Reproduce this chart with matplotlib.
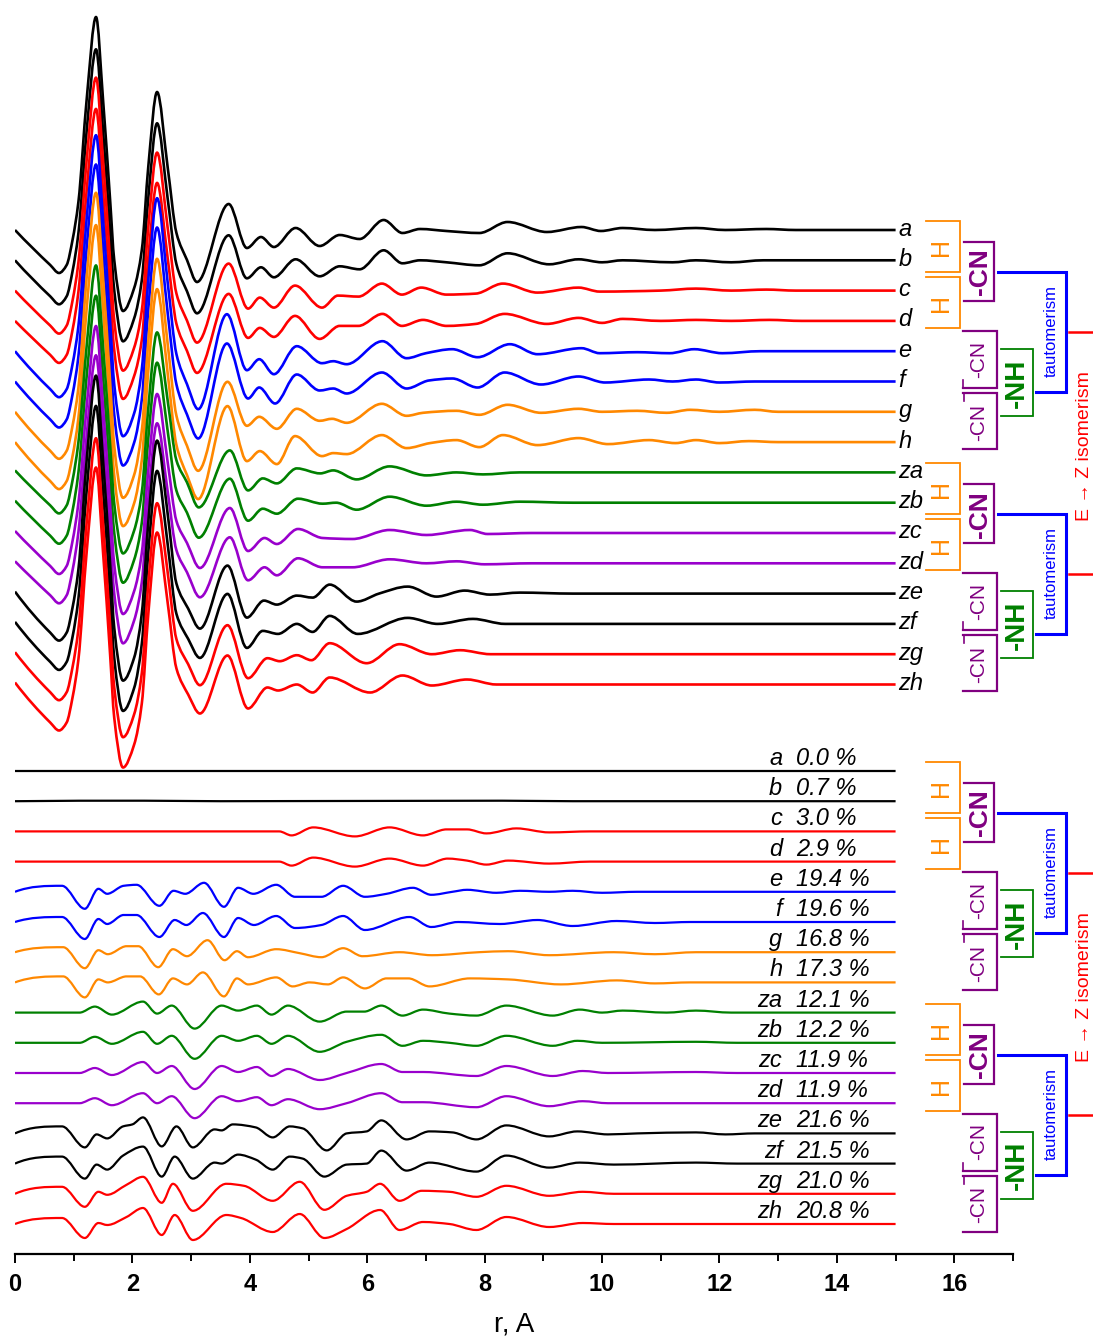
import numpy as np
import matplotlib.pyplot as plt
from matplotlib.path import Path
from matplotlib.patches import PathPatch

plt.rcParams['font.family'] = ['Liberation Sans', 'DejaVu Sans']

names = ["a", "b", "c", "d", "e", "f", "g", "h",
         "za", "zb", "zc", "zd", "ze", "zf", "zg", "zh"]
percent = ["0.0", "0.7", "3.0", "2.9", "19.4", "19.6", "16.8", "17.3",
           "12.1", "12.2", "11.9", "11.9", "21.6", "21.5", "21.0", "20.8"]

# G(r) for each structure: (r, value) at the extrema and flank points
up_a = [(0.0, 0.0), (0.60, -3.5), (0.75, -4.3), (0.88, -3.5), (0.98, -1.0), (1.08, 2.8), (1.22, 13.0),
        (1.38, 21.3), (1.50, 13.0), (1.62, 3.0), (1.69, -3.0), (1.84, -8.1), (2.03, -5.8), (2.16, -2.0),
        (2.27, 6.3), (2.42, 13.8), (2.60, 6.3), (2.75, -0.3), (2.93, -3.0), (3.10, -5.2), (3.64, 2.6),
        (3.95, -1.8), (4.19, -0.7), (4.41, -1.7), (4.78, 0.2), (5.19, -1.6), (5.53, -0.5), (5.87, -0.9),
        (6.28, 1.0), (6.60, -0.3), (6.90, 0.1), (7.35, -0.1), (7.91, -0.3), (8.39, 0.8), (9.06, -0.2),
        (9.65, 0.3), (9.98, -0.1), (10.35, 0.2), (10.90, 0.0), (11.60, 0.2), (12.10, 0.0), (12.80, 0.1),
        (13.30, 0.0), (15.0, 0.0)]
up_b = [(0.0, 0.0), (0.60, -3.6), (0.75, -4.4), (0.88, -3.6), (0.98, -1.1), (1.08, 2.7), (1.22, 12.9),
        (1.38, 21.1), (1.50, 12.9), (1.62, 2.9), (1.69, -3.0), (1.84, -8.1), (2.03, -5.8), (2.16, -2.0),
        (2.27, 6.2), (2.42, 13.7), (2.60, 6.2), (2.75, -0.4), (2.93, -3.1), (3.10, -5.3), (3.64, 2.5),
        (3.95, -1.8), (4.19, -0.7), (4.41, -1.7), (4.78, 0.1), (5.19, -1.6), (5.53, -0.6), (5.87, -0.9),
        (6.28, 1.0), (6.60, -0.3), (6.90, 0.0), (7.35, -0.2), (7.91, -0.5), (8.39, 0.7), (9.10, -0.4),
        (9.60, 0.1), (10.00, -0.2), (10.35, 0.0), (11.20, -0.2), (11.60, 0.0), (12.20, -0.2), (12.75, 0.0),
        (15.0, 0.0)]
up_c = [(0.0, 0.0), (0.60, -3.5), (0.75, -4.3), (0.88, -3.5), (0.98, -1.0), (1.08, 2.8), (1.22, 13.0),
        (1.38, 21.3), (1.50, 13.0), (1.62, 3.0), (1.69, -3.0), (1.84, -8.0), (2.03, -5.7), (2.16, -2.0),
        (2.27, 6.3), (2.42, 13.8), (2.60, 6.3), (2.75, -0.3), (2.93, -3.0), (3.10, -5.2), (3.64, 2.7),
        (3.97, -1.8), (4.17, -0.7), (4.41, -1.7), (4.77, 0.5), (5.23, -1.7), (5.50, -0.5), (5.85, -0.6),
        (6.25, 0.7), (6.59, -0.4), (6.92, 0.3), (7.35, -0.4), (7.85, -0.3), (8.31, 0.7), (8.90, -0.2),
        (9.60, 0.3), (9.96, -0.1), (11.00, 0.0), (11.60, 0.2), (12.20, 0.0), (12.80, 0.1), (13.30, 0.0),
        (15.0, 0.0)]
up_d = [(0.0, 0.0), (0.60, -3.4), (0.75, -4.2), (0.88, -3.4), (0.98, -0.9), (1.08, 2.9), (1.22, 13.0),
        (1.38, 21.2), (1.50, 13.0), (1.62, 3.0), (1.69, -2.9), (1.84, -7.8), (2.03, -5.5), (2.16, -1.9),
        (2.27, 6.3), (2.42, 13.8), (2.60, 6.3), (2.75, -0.3), (2.93, -3.0), (3.10, -5.2), (3.64, 2.7),
        (3.97, -1.7), (4.17, -0.7), (4.41, -1.6), (4.77, 0.5), (5.19, -1.8), (5.53, -0.5), (5.85, -0.5),
        (6.26, 0.7), (6.59, -0.5), (6.95, 0.1), (7.35, -0.5), (7.85, -0.3), (8.34, 0.7), (9.06, -0.3),
        (9.60, 0.3), (10.00, -0.2), (10.35, 0.2), (11.00, 0.0), (11.60, 0.1), (12.20, 0.0), (12.85, 0.1),
        (13.40, 0.0), (15.0, 0.0)]
up_e = [(0.0, 0.0), (0.60, -3.8), (0.75, -4.6), (0.88, -3.8), (0.98, -1.3), (1.08, 2.5), (1.22, 13.2),
        (1.38, 21.6), (1.50, 13.2), (1.62, 3.0), (1.69, -3.3), (1.84, -8.5), (2.03, -6.2), (2.16, -1.8),
        (2.27, 7.1), (2.42, 15.3), (2.60, 6.9), (2.75, -0.3), (2.93, -3.3), (3.12, -5.8), (3.61, 3.7),
        (3.95, -1.9), (4.16, -0.8), (4.41, -2.3), (4.80, 0.5), (5.23, -1.2), (5.42, -1.0), (5.65, -1.3),
        (6.26, 1.0), (6.67, -0.7), (7.00, -0.2), (7.45, 0.2), (7.88, -0.6), (8.43, 0.7), (8.90, -0.3),
        (9.65, 0.3), (9.96, -0.2), (10.60, -0.1), (11.15, -0.2), (11.57, 0.2), (12.05, -0.2), (12.70, 0.0),
        (15.0, 0.0)]
up_f = [(0.0, 0.0), (0.60, -3.8), (0.75, -4.6), (0.88, -3.8), (0.98, -1.3), (1.08, 2.5), (1.22, 13.3),
        (1.38, 21.7), (1.50, 13.3), (1.62, 3.0), (1.69, -3.3), (1.84, -8.4), (2.03, -6.1), (2.16, -1.8),
        (2.27, 7.2), (2.42, 15.4), (2.60, 6.9), (2.75, -0.3), (2.93, -3.3), (3.12, -5.7), (3.61, 3.8),
        (3.97, -1.7), (4.16, -0.6), (4.43, -2.2), (4.80, 0.7), (5.19, -0.9), (5.42, -0.7), (5.65, -1.2),
        (6.25, 0.9), (6.67, -0.7), (7.05, 0.1), (7.45, 0.3), (7.88, -0.6), (8.34, 0.9), (8.96, -0.3),
        (9.60, 0.5), (10.05, -0.1), (10.80, 0.2), (11.20, 0.0), (11.60, 0.2), (12.00, -0.1), (12.60, 0.0),
        (15.0, 0.0)]
up_g = [(0.0, 0.0), (0.60, -3.9), (0.75, -4.7), (0.88, -3.9), (0.98, -1.4), (1.08, 2.4), (1.22, 13.4),
        (1.38, 21.9), (1.50, 13.4), (1.62, 3.0), (1.69, -3.4), (1.84, -8.6), (2.03, -6.3), (2.16, -1.9),
        (2.27, 7.0), (2.42, 15.3), (2.60, 6.8), (2.75, -0.4), (2.93, -3.4), (3.12, -5.9), (3.62, 3.0),
        (3.95, -1.4), (4.16, -0.5), (4.46, -1.7), (4.80, 0.3), (5.19, -0.9), (5.40, -0.7), (5.65, -1.1),
        (6.25, 0.8), (6.67, -0.4), (6.95, -0.1), (7.52, 0.1), (7.91, -0.3), (8.39, 0.7), (8.96, -0.1),
        (9.60, 0.3), (10.00, 0.0), (10.60, 0.1), (11.10, -0.1), (11.50, 0.2), (12.00, 0.0), (12.60, 0.2),
        (13.00, 0.0), (15.0, 0.0)]
up_h = [(0.0, 0.0), (0.60, -3.9), (0.75, -4.7), (0.88, -3.9), (0.98, -1.4), (1.08, 2.4), (1.22, 13.3),
        (1.38, 21.7), (1.50, 13.3), (1.62, 3.0), (1.69, -3.3), (1.84, -8.4), (2.03, -6.1), (2.16, -1.8),
        (2.27, 7.1), (2.42, 15.3), (2.60, 6.9), (2.75, -0.3), (2.93, -3.3), (3.12, -5.7), (3.62, 3.6),
        (3.95, -1.9), (4.17, -0.9), (4.46, -2.2), (4.77, 0.6), (5.23, -1.4), (5.42, -1.1), (5.65, -1.2),
        (6.25, 0.7), (6.67, -0.6), (7.07, -0.1), (7.52, 0.2), (7.91, -0.5), (8.31, 0.7), (8.90, -0.3),
        (9.60, 0.4), (10.10, -0.2), (10.80, 0.2), (11.25, -0.1), (11.60, 0.2), (12.00, -0.1), (12.50, 0.1),
        (13.00, 0.0), (15.0, 0.0)]
up_za = [(0.0, 0.2), (0.60, -3.3), (0.75, -4.1), (0.88, -3.3), (0.98, -0.8), (1.08, 3.0), (1.22, 12.6),
         (1.38, 20.7), (1.50, 12.6), (1.62, 2.8), (1.69, -3.1), (1.84, -8.1), (2.03, -5.8), (2.16, -2.0),
         (2.27, 6.4), (2.42, 14.0), (2.60, 7.2), (2.75, 1.2), (2.93, -1.0), (3.13, -3.5), (3.66, 2.2),
         (3.97, -1.8), (4.22, -0.6), (4.46, -1.1), (4.80, 0.4), (5.20, -0.1), (5.42, 0.2), (5.82, -0.7),
         (6.38, 0.6), (7.01, -0.3), (7.52, 0.0), (7.97, -0.2), (8.60, 0.0), (15.0, 0.0)]
up_zb = [(0.0, 0.2), (0.60, -3.3), (0.75, -4.1), (0.88, -3.3), (0.98, -0.8), (1.08, 3.0), (1.22, 12.6),
         (1.38, 20.7), (1.50, 12.6), (1.62, 2.8), (1.69, -3.0), (1.84, -8.0), (2.03, -5.7), (2.16, -2.0),
         (2.27, 6.4), (2.42, 14.0), (2.60, 7.2), (2.75, 1.2), (2.93, -1.0), (3.13, -3.5), (3.66, 2.4),
         (3.97, -1.8), (4.22, -0.6), (4.46, -1.1), (4.82, 0.4), (5.24, -0.1), (5.47, 0.0), (5.82, -0.7),
         (6.38, 0.6), (7.01, -0.3), (7.52, 0.1), (7.97, -0.2), (8.60, 0.1), (9.50, 0.0), (15.0, 0.0)]
up_zc = [(0.0, 0.2), (0.60, -3.3), (0.75, -4.1), (0.88, -3.3), (0.98, -0.8), (1.08, 3.0), (1.22, 12.6),
         (1.38, 20.7), (1.50, 12.6), (1.62, 2.8), (1.69, -3.1), (1.84, -8.1), (2.03, -5.8), (2.16, -2.0),
         (2.27, 6.3), (2.42, 13.9), (2.60, 7.1), (2.75, 1.2), (2.93, -1.0), (3.15, -3.5), (3.66, 2.5),
         (3.97, -1.8), (4.25, -0.5), (4.46, -1.1), (4.82, 0.4), (5.24, -0.5), (5.75, -0.6), (6.38, 0.3),
         (7.01, -0.2), (7.75, 0.3), (8.05, -0.1), (8.80, 0.0), (15.0, 0.0)]
up_zd = [(0.0, 0.2), (0.60, -3.2), (0.75, -4.0), (0.88, -3.2), (0.98, -0.7), (1.08, 3.1), (1.22, 12.7),
         (1.38, 20.8), (1.50, 12.7), (1.62, 2.9), (1.69, -3.0), (1.84, -8.0), (2.03, -5.7), (2.16, -1.9),
         (2.27, 6.4), (2.42, 14.0), (2.60, 7.2), (2.75, 1.3), (2.93, -0.9), (3.15, -3.4), (3.66, 2.6),
         (3.97, -1.7), (4.25, -0.4), (4.46, -1.2), (4.82, 0.5), (5.24, -0.4), (5.75, -0.4), (6.38, 0.4),
         (7.01, 0.0), (7.52, 0.2), (8.00, -0.1), (8.80, 0.0), (15.0, 0.0)]
up_ze = [(0.0, 0.2), (0.60, -3.9), (0.75, -4.7), (0.88, -3.9), (0.98, -1.4), (1.08, 2.4), (1.22, 13.3),
         (1.38, 21.8), (1.50, 13.3), (1.62, 3.0), (1.69, -3.4), (1.84, -8.7), (2.03, -6.4), (2.16, -2.0),
         (2.27, 7.1), (2.42, 15.3), (2.60, 8.0), (2.75, 1.0), (2.95, -1.5), (3.15, -3.5), (3.62, 2.8),
         (3.95, -2.4), (4.24, -0.7), (4.46, -1.1), (4.80, -0.2), (5.07, -0.4), (5.36, 0.9), (5.82, -0.8),
         (6.20, 0.0), (6.69, 0.7), (7.18, -0.3), (7.66, 0.3), (8.09, -0.1), (8.60, 0.1), (9.50, 0.0),
         (15.0, 0.0)]
up_zf = [(0.0, 0.2), (0.60, -3.8), (0.75, -4.6), (0.88, -3.8), (0.98, -1.3), (1.08, 2.5), (1.22, 13.3),
         (1.38, 21.8), (1.50, 13.3), (1.62, 3.0), (1.69, -3.4), (1.84, -8.7), (2.03, -6.4), (2.16, -2.0),
         (2.27, 7.1), (2.42, 15.3), (2.60, 8.0), (2.75, 1.0), (2.95, -1.5), (3.15, -3.4), (3.62, 3.0),
         (3.95, -2.4), (4.22, -0.7), (4.48, -1.0), (4.80, 0.0), (5.07, -0.8), (5.36, 0.8), (5.84, -1.0),
         (6.69, 0.6), (7.20, 0.0), (7.80, 0.5), (8.35, 0.0), (15.0, 0.0)]
up_zg = [(0.0, 0.2), (0.60, -3.8), (0.75, -4.6), (0.88, -3.8), (0.98, -1.3), (1.08, 2.5), (1.22, 13.1),
         (1.38, 21.6), (1.50, 13.1), (1.62, 2.9), (1.69, -3.3), (1.84, -8.3), (2.03, -6.0), (2.16, -1.9),
         (2.27, 7.0), (2.42, 15.1), (2.60, 8.2), (2.75, 1.5), (2.95, -1.0), (3.15, -3.1), (3.62, 2.9),
         (3.97, -2.4), (4.30, -0.4), (4.51, -0.7), (4.80, -0.1), (5.05, -0.6), (5.36, 1.1), (5.99, -0.9),
         (6.55, 1.0), (7.10, 0.0), (7.58, 0.4), (8.10, 0.0), (15.0, 0.0)]
up_zh = [(0.0, 0.2), (0.60, -3.8), (0.75, -4.6), (0.88, -3.8), (0.98, -1.3), (1.08, 2.5), (1.22, 13.2),
         (1.38, 21.7), (1.50, 13.2), (1.62, 3.0), (1.69, -3.3), (1.84, -8.3), (2.03, -6.0), (2.16, -1.9),
         (2.27, 7.0), (2.42, 15.2), (2.60, 8.2), (2.75, 1.6), (2.95, -1.0), (3.15, -2.9), (3.62, 2.9),
         (3.97, -2.4), (4.30, -0.3), (4.48, -0.6), (4.80, 0.0), (5.07, -0.8), (5.36, 0.7), (6.05, -0.8),
         (6.60, 0.9), (7.10, -0.1), (7.70, 0.5), (8.20, 0.0), (15.0, 0.0)]

# difference curves, same (r, value) layout
lo_a = [(0.0, 0.0), (15.0, 0.0)]
lo_b = [(0.0, 0.0), (2.2, 0.05), (3.5, 0.0), (8.3, 0.05), (9.5, 0.0), (15.0, 0.0)]
lo_c = [(0.0, 0.0), (4.50, 0.0), (4.71, -0.4), (5.08, 0.4), (5.79, -0.5), (6.38, 0.4), (6.95, -0.4),
        (7.35, 0.2), (7.70, 0.2), (8.03, -0.2), (8.54, 0.3), (9.10, -0.1), (9.80, 0.0), (15.0, 0.0)]
lo_d = [(0.0, 0.0), (4.50, 0.0), (4.71, -0.4), (5.08, 0.4), (5.79, -0.5), (6.38, 0.3), (6.95, -0.4),
        (7.37, 0.3), (7.70, 0.1), (8.03, -0.3), (8.40, 0.1), (9.10, -0.2), (9.80, 0.0), (15.0, 0.0)]
lo_e = [(0.0, 0.0), (0.80, 0.6), (1.19, -1.7), (1.42, 0.3), (1.57, -0.2), (1.85, 0.6), (2.07, 0.7),
        (2.46, -1.4), (2.70, 0.1), (2.90, -0.2), (3.22, 0.9), (3.56, -1.5), (3.80, 0.4), (4.06, -0.2),
        (4.45, 0.7), (4.77, -0.5), (5.22, -0.5), (5.59, 0.6), (5.96, -0.5), (6.33, -0.2), (6.78, 0.4),
        (7.09, -0.3), (7.45, 0.0), (7.70, 0.2), (8.20, -0.1), (8.60, 0.1), (9.10, 0.0), (9.50, 0.1),
        (10.00, -0.1), (10.60, 0.0), (15.0, 0.0)]
lo_f = [(0.0, 0.0), (0.80, 0.5), (1.19, -1.7), (1.42, 0.3), (1.57, -0.2), (1.85, 0.7), (2.07, 0.7),
        (2.46, -1.5), (2.72, 0.2), (2.92, -0.3), (3.20, 0.9), (3.56, -1.5), (3.80, 0.4), (4.07, -0.3),
        (4.45, 0.6), (4.77, -0.6), (5.22, -0.3), (5.59, 0.6), (5.96, -0.8), (6.72, 0.5), (7.09, -0.5),
        (7.55, 0.0), (8.26, -0.2), (8.90, 0.2), (9.50, -0.4), (10.25, 0.1), (10.90, -0.1), (11.50, 0.0),
        (15.0, 0.0)]
lo_g = [(0.0, 0.0), (0.82, 0.5), (1.19, -1.6), (1.42, 0.2), (1.58, -0.2), (1.90, 0.6), (2.10, 0.6),
        (2.44, -1.5), (2.69, 0.3), (2.93, -0.4), (3.28, 1.2), (3.57, -0.8), (3.78, 0.1), (3.97, -0.5),
        (4.45, 0.3), (4.85, -0.1), (5.22, -0.5), (5.59, 0.4), (5.92, -0.4), (6.55, 0.0), (7.10, -0.3),
        (7.90, 0.0), (8.40, 0.1), (9.10, -0.3), (10.20, 0.0), (10.90, -0.2), (11.60, 0.0), (15.0, 0.0)]
lo_h = [(0.0, 0.0), (0.82, 0.6), (1.19, -1.5), (1.42, 0.3), (1.58, 0.0), (1.90, 0.6), (2.13, 0.6),
        (2.45, -1.2), (2.69, 0.4), (2.93, -0.2), (3.20, 1.0), (3.56, -1.4), (3.78, 0.4), (3.97, -0.2),
        (4.45, 0.5), (4.73, -0.4), (5.02, 0.0), (5.33, -0.2), (5.59, 0.5), (5.96, -0.6), (6.33, 0.4),
        (6.70, 0.4), (7.06, -0.4), (7.75, 0.4), (8.40, 0.3), (9.30, -0.2), (10.25, 0.2), (10.90, -0.1),
        (11.50, 0.0), (15.0, 0.0)]
lo_za = [(0.0, 0.0), (1.10, 0.0), (1.36, 0.6), (1.65, -0.2), (2.18, 1.1), (2.42, -0.1), (2.67, 0.7),
         (3.06, -1.6), (3.52, 0.7), (3.80, 0.2), (4.12, 0.7), (4.37, -0.2), (4.65, 0.7), (5.19, -0.9),
         (5.65, 0.1), (5.95, 0.1), (6.24, 0.7), (6.60, -0.3), (6.95, 0.3), (7.40, -0.1), (7.86, -0.3),
         (8.37, 0.7), (9.16, -0.3), (9.62, 0.3), (10.00, 0.0), (10.35, 0.2), (11.10, 0.0), (11.60, 0.2),
         (12.20, 0.0), (15.0, 0.0)]
lo_zb = [(0.0, 0.0), (1.10, 0.0), (1.36, 0.6), (1.65, -0.1), (2.18, 1.1), (2.42, -0.1), (2.67, 0.7),
         (3.06, -1.6), (3.52, 0.7), (3.80, 0.2), (4.12, 0.7), (4.37, -0.1), (4.65, 0.7), (5.19, -0.9),
         (5.65, 0.1), (6.24, 0.8), (6.60, -0.3), (6.95, 0.2), (7.40, 0.0), (7.86, -0.3), (8.37, 0.7),
         (9.16, -0.3), (9.58, 0.2), (10.00, 0.0), (11.60, 0.1), (12.30, 0.0), (15.0, 0.0)]
lo_zc = [(0.0, 0.0), (1.10, 0.0), (1.36, 0.5), (1.65, -0.2), (2.18, 1.1), (2.42, 0.0), (2.67, 0.7),
         (3.06, -1.6), (3.52, 0.7), (3.80, 0.1), (4.12, 0.6), (4.37, -0.3), (4.65, 0.4), (5.19, -0.7),
         (5.65, 0.0), (6.24, 0.9), (6.60, 0.1), (6.95, 0.1), (7.86, -0.3), (8.37, 0.7), (9.16, -0.3),
         (9.67, 0.2), (10.10, 0.0), (11.60, 0.1), (12.30, 0.0), (15.0, 0.0)]
lo_zd = [(0.0, 0.0), (1.10, 0.0), (1.36, 0.5), (1.65, -0.2), (2.18, 1.0), (2.42, 0.0), (2.67, 0.7),
         (3.06, -1.5), (3.52, 0.7), (3.80, 0.2), (4.12, 0.6), (4.37, -0.2), (4.65, 0.4), (5.19, -0.6),
         (5.65, 0.0), (6.24, 1.0), (6.60, 0.1), (6.95, 0.1), (7.86, -0.4), (8.37, 0.7), (9.10, -0.3),
         (9.67, 0.2), (10.10, 0.0), (15.0, 0.0)]
lo_ze = [(0.0, 0.0), (0.80, 0.7), (1.19, -1.4), (1.39, -0.1), (1.57, -0.5), (1.84, 0.7), (2.00, 0.9),
         (2.18, 1.6), (2.50, -1.3), (2.75, 0.7), (3.03, -1.4), (3.40, 0.4), (3.52, 0.3), (3.71, 0.9),
         (4.10, 0.6), (4.39, -0.4), (4.68, 0.7), (4.90, 0.5), (5.31, -1.7), (5.65, 0.0), (5.99, 0.2),
         (6.24, 1.3), (6.67, -0.6), (7.06, 0.2), (7.45, 0.1), (7.86, -0.6), (8.37, 0.8), (9.10, -0.3),
         (9.58, 0.2), (10.10, -0.1), (10.60, 0.0), (11.60, 0.1), (12.10, -0.1), (12.60, 0.0), (15.0, 0.0)]
lo_zf = [(0.0, 0.0), (0.80, 0.7), (1.19, -1.5), (1.39, -0.1), (1.57, -0.6), (1.84, 0.8), (2.18, 1.7),
         (2.50, -1.3), (2.72, 0.7), (3.03, -1.5), (3.40, 0.1), (3.52, 0.0), (3.80, 0.9), (4.10, 0.4),
         (4.39, -0.6), (4.68, 0.7), (4.90, 0.5), (5.27, -1.3), (5.65, -0.1), (5.99, 0.0), (6.24, 1.3),
         (6.67, -0.7), (7.06, 0.1), (7.86, -0.8), (8.37, 0.8), (9.10, -0.4), (9.62, 0.1), (10.20, -0.1),
         (11.60, 0.1), (12.30, 0.0), (15.0, 0.0)]
lo_zg = [(0.0, 0.0), (0.80, 0.7), (1.19, -1.3), (1.42, 0.2), (1.57, -0.1), (1.90, 0.9), (2.18, 1.7),
         (2.50, -0.9), (2.69, 1.0), (3.03, -1.7), (3.60, 1.0), (3.90, 0.8), (4.39, -0.7), (4.85, 1.2),
         (5.27, -1.6), (5.65, -0.2), (5.99, 0.2), (6.22, 1.0), (6.55, -0.7), (6.93, 0.3), (7.40, 0.2),
         (7.86, -0.3), (8.37, 0.8), (9.10, -0.2), (9.67, 0.2), (10.20, 0.0), (15.0, 0.0)]
lo_zh = [(0.0, 0.0), (0.80, 0.6), (1.19, -1.4), (1.42, 0.1), (1.57, -0.1), (1.90, 0.7), (2.18, 1.6),
         (2.50, -1.1), (2.72, 0.9), (3.03, -1.6), (3.60, 0.9), (3.85, 0.6), (4.39, -0.8), (4.85, 1.0),
         (5.27, -1.4), (5.65, -0.5), (6.22, 1.4), (6.55, -0.6), (6.95, 0.2), (7.40, 0.0), (7.86, -0.6),
         (8.37, 0.7), (9.10, -0.3), (9.67, 0.1), (10.20, 0.0), (15.0, 0.0)]

upper = [up_a, up_b, up_c, up_d, up_e, up_f, up_g, up_h,
         up_za, up_zb, up_zc, up_zd, up_ze, up_zf, up_zg, up_zh]
lower = [lo_a, lo_b, lo_c, lo_d, lo_e, lo_f, lo_g, lo_h,
         lo_za, lo_zb, lo_zc, lo_zd, lo_ze, lo_zf, lo_zg, lo_zh]

BLACK, RED, BLUE, ORANGE, GREEN, VIOLET = "#000000", "#FF0000", "#0000FF", "#FF8800", "#008000", "#9900CC"
PURPLE = "#800080"
colors = [BLACK, BLACK, RED, RED, BLUE, BLUE, ORANGE, ORANGE,
          GREEN, GREEN, VIOLET, VIOLET, BLACK, BLACK, RED, RED]

up_base = [102.4 - 3.03 * i for i in range(16)]
lo_base = [48.3 - 3.02 * i for i in range(16)]


def smooth_path(points, shift):
    # monotone cubic through the points, drawn as bezier segments
    r = np.array([p[0] for p in points], float)
    g = np.array([p[1] for p in points], float) + shift
    h = np.diff(r)
    d = np.diff(g) / h
    n = len(r)
    m = np.zeros(n)
    for k in range(1, n - 1):
        if d[k - 1] * d[k] > 0:
            w1 = 2 * h[k] + h[k - 1]
            w2 = h[k] + 2 * h[k - 1]
            m[k] = (w1 + w2) / (w1 / d[k - 1] + w2 / d[k])
    if n > 2:
        m0 = ((2 * h[0] + h[1]) * d[0] - h[0] * d[1]) / (h[0] + h[1])
        if np.sign(m0) != np.sign(d[0]):
            m0 = 0.0
        elif abs(m0) > 3 * abs(d[0]):
            m0 = 3 * d[0]
        m[0] = m0
    verts = [(r[0], g[0])]
    codes = [Path.MOVETO]
    for k in range(n - 1):
        verts += [(r[k] + h[k] / 3, g[k] + m[k] * h[k] / 3),
                  (r[k + 1] - h[k] / 3, g[k + 1] - m[k + 1] * h[k] / 3),
                  (r[k + 1], g[k + 1])]
        codes += [Path.CURVE4] * 3
    return Path(verts, codes)


fig = plt.figure(figsize=(10.93, 13.39), dpi=100)
ax = fig.add_axes([15 / 1093, 85 / 1339, 998 / 1093, 1254 / 1339])
ax.set_xlim(0, 17)
ax.set_ylim(0, 125.4)

for pts, base, col in zip(upper, up_base, colors):
    ax.add_patch(PathPatch(smooth_path(pts, base), fill=False, edgecolor=col, lw=1.9,
                           joinstyle="round"))
for pts, base, col in zip(lower, lo_base, colors):
    ax.add_patch(PathPatch(smooth_path(pts, base), fill=False, edgecolor=col, lw=1.6,
                           joinstyle="round"))

for name, base in zip(names, up_base):
    ax.text(15.05, base + 0.1, name, fontsize=17, style="italic", ha="left", va="center")
for name, pct, base in zip(names, percent, lo_base):
    ax.text(13.07, base + 0.6, name, fontsize=17, style="italic", ha="right", va="baseline")
    ax.text(13.31, base + 0.6, pct + " %", fontsize=17, style="italic", ha="left", va="baseline")


def bracket(x0, x1, top, bottom, color, lw, x_end=None):
    xe = x0 if x_end is None else x_end
    ax.plot([x0, x1, x1, xe], [top, top, bottom, bottom], color=color, lw=lw,
            clip_on=False, solid_joinstyle="miter")


def vtext(x, y, s, color, size, weight="normal"):
    ax.text(x, y, s, rotation=90, color=color, fontsize=size, fontweight=weight,
            ha="center", va="center", clip_on=False)


def group_marks(y0):
    # y0 is the first curve of a group of eight; offsets go downwards
    bracket(15.51, 16.10, y0 + 0.9, y0 - 4.2, ORANGE, 1.3)
    bracket(15.51, 16.10, y0 - 4.7, y0 - 9.8, ORANGE, 1.3)
    vtext(15.78, y0 - 1.7, "H", ORANGE, 18)
    vtext(15.78, y0 - 7.3, "H", ORANGE, 18)
    bracket(16.17, 16.68, y0 - 1.2, y0 - 7.1, PURPLE, 1.6)
    vtext(16.43, y0 - 4.2, "-CN", PURPLE, 19, "bold")
    bracket(16.14, 16.73, y0 - 10.1, y0 - 15.8, PURPLE, 1.6)
    bracket(16.14, 16.73, y0 - 16.3, y0 - 21.9, PURPLE, 1.6)
    ax.plot([16.14, 16.14], [y0 - 15.8, y0 - 15.0], color=PURPLE, lw=1.2, clip_on=False)
    ax.plot([16.17, 16.17], [y0 - 16.3, y0 - 17.1], color=PURPLE, lw=1.2, clip_on=False)
    vtext(16.41, y0 - 12.9, "-CN", PURPLE, 15)
    vtext(16.41, y0 - 19.2, "-CN", PURPLE, 15)
    bracket(16.80, 17.34, y0 - 11.9, y0 - 18.6, GREEN, 1.3)
    vtext(17.07, y0 - 15.3, "-NH", GREEN, 20, "bold")
    bracket(16.75, 17.91, y0 - 4.2, y0 - 16.2, BLUE, 2.2, x_end=17.40)
    vtext(17.65, y0 - 10.1, "tautomerism", BLUE, 12)


for bases in (up_base, lo_base):
    group_marks(bases[0])
    group_marks(bases[8])
    t1 = bases[0] - 10.2
    t2 = bases[8] - 10.2
    ax.plot([17.96, 18.6, 18.6, 17.96], [t1, t1, t2, t2], color=RED, lw=1.8,
            clip_on=False, solid_joinstyle="miter")
    ax.text(18.21, bases[0] - 21.6, "E \u2192 Z isomerism", rotation=90, color=RED,
            fontsize=14, ha="center", va="center", clip_on=False)

for side in ("left", "right", "top"):
    ax.spines[side].set_visible(False)
ax.spines["bottom"].set_linewidth(1.6)
ax.set_yticks([])
ax.set_xticks(np.arange(0, 17, 2))
ax.set_xticks(np.arange(1, 18, 2), minor=True)
ax.tick_params(axis="x", which="major", direction="out", length=6.5, width=1.4,
               labelsize=17, pad=7)
ax.tick_params(axis="x", which="minor", direction="out", length=5, width=1.4)
for lab in ax.get_xticklabels():
    lab.set_fontweight("bold")
ax.set_xlabel("r, A", fontsize=20, labelpad=11)
ax.patch.set_alpha(0)

fig.savefig("out.png", dpi=100)
